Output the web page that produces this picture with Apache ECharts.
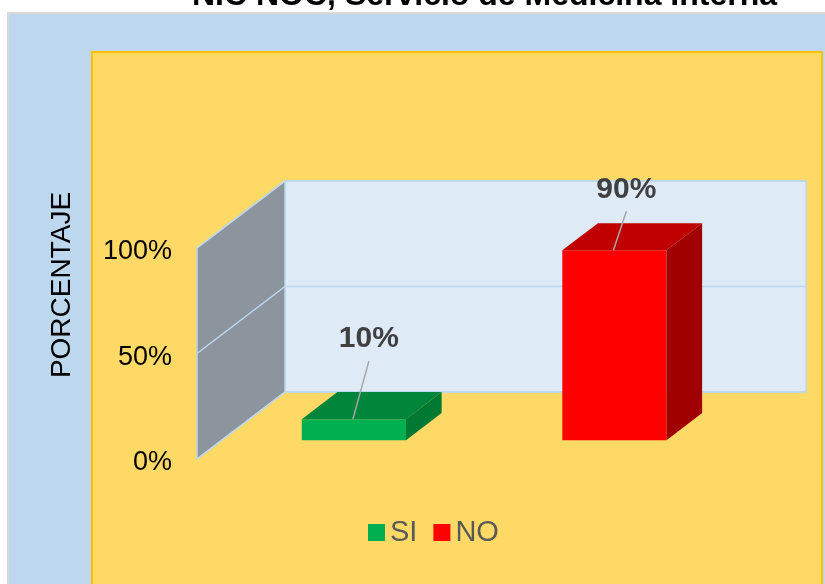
<!DOCTYPE html>
<html>
<head>
<meta charset="utf-8">
<title>NIC NOC</title>
<script src="https://cdn.jsdelivr.net/npm/echarts@6/dist/echarts.min.js"></script>
<style>
    html, body { margin: 0; padding: 0; background: #fff; }
    #main { width: 825px; height: 584px; }
</style>
</head>
<body>
<div id="main"></div>
<script>
    var titleText = 'NIC NOC, Servicio de Medicina Interna';
    var categories = ['SI', 'NO'];
    var values = [10, 90];
    var yTicks = [0, 50, 100];
    var yName = 'PORCENTAJE';

    var FONT = "'Liberation Sans', Arial, sans-serif";
    var faces = [
        { front: '#00B050', top: '#00853B', side: '#007A33' },
        { front: '#FF0000', top: '#C00000', side: '#A00000' }
    ];
    // labels were dragged by hand in the original, so each gets its own shift
    var labelShift = [[15, -80], [12, -61]];

    var DX = 88, DY = -67;      // depth of the 3d box
    var D0 = 0.28, D1 = 0.685;  // where the bars sit in that depth
    var NUDGE = 2;              // bars sit a little right of the band centre

    function walls(params, api) {
        var cs = params.coordSys;
        var x0 = cs.x, x1 = cs.x + cs.width, yt = cs.y, yb = cs.y + cs.height;
        var kids = [{
            type: 'rect',
            shape: { x: x0 + DX, y: yt + DY, width: cs.width, height: cs.height },
            style: { fill: '#DEEBF7', stroke: '#BDD7EE', lineWidth: 1.5 }
        }, {
            type: 'polygon',
            shape: { points: [[x0, yb], [x0, yt], [x0 + DX, yt + DY], [x0 + DX, yb + DY]] },
            style: { fill: '#8C959D', stroke: '#BDD7EE', lineWidth: 1.5 }
        }];
        yTicks.forEach(function (v) {
            var y = api.coord([0, v])[1];
            kids.push({
                type: 'polyline',
                shape: { points: [[x0, y], [x0 + DX, y + DY], [x1 + DX, y + DY]] },
                style: { fill: null, stroke: '#BDD7EE', lineWidth: 1.5 }
            });
        });
        return { type: 'group', children: kids };
    }

    function bar3d(params, api) {
        var i = api.value(0);
        var top = api.coord([i, api.value(1)]);
        var base = api.coord([i, 0]);
        var w = api.size([1, 0])[0] * 0.4;
        var c = faces[i];
        var ax = top[0] - w / 2 + D0 * DX + NUDGE, bx = ax + w;
        var ty = top[1] + D0 * DY, by = base[1] + D0 * DY;
        var ddx = (D1 - D0) * DX, ddy = (D1 - D0) * DY;
        var lx = ax + w / 2 + labelShift[i][0], ly = ty + labelShift[i][1];
        return {
            type: 'group',
            children: [{
                type: 'rect',
                shape: { x: ax, y: ty, width: w, height: by - ty },
                style: { fill: c.front }
            }, {
                type: 'polygon',
                shape: { points: [[ax, ty], [bx, ty], [bx + ddx, ty + ddy], [ax + ddx, ty + ddy]] },
                style: { fill: c.top }
            }, {
                type: 'polygon',
                shape: { points: [[bx, ty], [bx + ddx, ty + ddy], [bx + ddx, by + ddy], [bx, by]] },
                style: { fill: c.side }
            }, {
                type: 'line',
                shape: { x1: lx, y1: ly + 22, x2: ax + w / 2 - 1, y2: ty },
                style: { stroke: '#A6A6A6', lineWidth: 1.5 }
            }, {
                type: 'text',
                x: lx, y: ly,
                style: {
                    text: api.value(1) + '%',
                    fill: '#404040',
                    font: 'bold 30px ' + FONT,
                    align: 'center',
                    verticalAlign: 'middle'
                }
            }]
        };
    }

    var chart = echarts.init(document.getElementById('main'));
    chart.setOption({
        animation: false,
        title: {
            text: titleText,
            left: 192,
            top: -20,
            padding: 0,
            textStyle: { fontSize: 32, fontWeight: 'bold', color: '#000', fontFamily: FONT }
        },
        graphic: [{
            type: 'rect',
            shape: { x: 8, y: 13, width: 830, height: 600 },
            style: { fill: '#BDD7EE', stroke: '#D9D9D9', lineWidth: 2 }
        }, {
            type: 'rect',
            shape: { x: 92, y: 52, width: 730, height: 560 },
            style: { fill: '#FFD966', stroke: '#FFC000', lineWidth: 2 }
        }, {
            type: 'text',
            x: 62, y: 285,
            rotation: Math.PI / 2,
            style: {
                text: yName,
                fill: '#000',
                font: '28px ' + FONT,
                align: 'center',
                verticalAlign: 'middle'
            }
        }],
        legend: {
            data: categories,
            left: 368,
            top: 518,
            padding: 0,
            itemWidth: 17,
            itemHeight: 17,
            itemGap: 16,
            icon: 'rect',
            textStyle: { fontSize: 29, color: '#595959', fontFamily: FONT }
        },
        grid: { left: 197, right: 107, top: 248, bottom: 125 },
        xAxis: { type: 'category', data: categories, show: false },
        yAxis: {
            type: 'value',
            min: 0, max: 100, interval: 50,
            axisLine: { show: true, lineStyle: { color: '#FFC000', width: 1.5 } },
            axisTick: { show: false },
            splitLine: { show: false },
            axisLabel: {
                formatter: '{t|{value}%}',
                margin: 25,
                rich: {
                    t: { fontSize: 27, color: '#000', fontFamily: FONT, padding: [8, 0, 0, 0] }
                }
            }
        },
        series: [{
            type: 'custom',
            name: 'walls',
            renderItem: walls,
            data: [[0, 0]],
            silent: true,
            z: 1
        }, {
            type: 'custom',
            name: categories[0],
            renderItem: bar3d,
            itemStyle: { color: faces[0].front },
            data: [[0, values[0]]],
            z: 3
        }, {
            type: 'custom',
            name: categories[1],
            renderItem: bar3d,
            itemStyle: { color: faces[1].front },
            data: [[1, values[1]]],
            z: 3
        }]
    });
</script>
</body>
</html>
